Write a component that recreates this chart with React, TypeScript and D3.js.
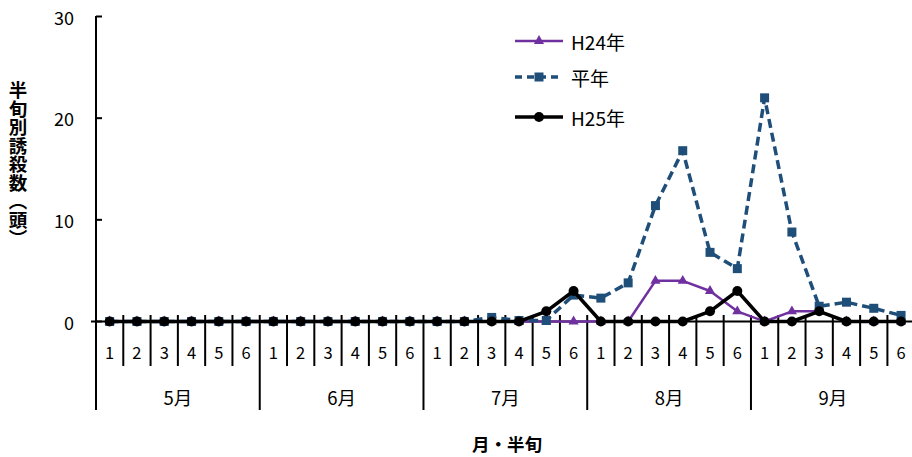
import React from "react";
import * as d3 from "d3";

const months = ["5月", "6月", "7月", "8月", "9月"];
const halfTen = ["1", "2", "3", "4", "5", "6"];
const yTicks = [0, 10, 20, 30];

const h24 = [
  0, 0, 0, 0, 0, 0,
  0, 0, 0, 0, 0, 0,
  0, 0, 0, 0, 0, 0,
  0, 0, 4, 4, 3, 1,
  0, 1, 1, 0, 0, 0,
];
const heinen = [
  0, 0, 0, 0, 0, 0,
  0, 0, 0, 0, 0, 0,
  0, 0, 0.4, 0.1, 0.1, 2.6,
  2.3, 3.8, 11.4, 16.8, 6.8, 5.2,
  22.0, 8.8, 1.5, 1.9, 1.3, 0.6,
];
const h25 = [
  0, 0, 0, 0, 0, 0,
  0, 0, 0, 0, 0, 0,
  0, 0, 0, 0, 1, 3,
  0, 0, 0, 0, 1, 3,
  0, 0, 1, 0, 0, 0,
];

const FONT = "'Noto Sans CJK JP', 'Noto Sans', sans-serif";

export default function App() {
  const W = 912, H = 457;
  const left = 96, bandW = 27.29;
  const n = months.length * halfTen.length;
  const idx = d3.range(n);
  const x = d3.scaleBand<number>().domain(idx).range([left, left + n * bandW]).padding(0);
  const cx = (i: number) => (x(i) as number) + x.bandwidth() / 2;
  const y = d3.scaleLinear().domain([0, 30]).range([321.5, 16.5]);
  const line = (arr: number[]) =>
    d3.line<number>().x((_, i) => cx(i)).y((d) => y(d))(arr) as string;
  const y0 = y(0);
  const tri = d3.symbol().type(d3.symbolTriangle).size(45)() as string;

  return (
    <svg width={W} height={H} style={{ position: "absolute", left: 0, top: 0, background: "#fff" }} fontFamily={FONT}>
      {/* y axis */}
      <line x1={left} x2={left} y1={16} y2={410} stroke="#000" strokeWidth={2} />
      {yTicks.map((t) => (
        <g key={t}>
          <line x1={left} x2={left + 6} y1={y(t)} y2={y(t)} stroke="#000" strokeWidth={2} />
          <text x={74} y={y(t)} textAnchor="end" dominantBaseline="central" fontSize={18} fill="#000">
            {t}
          </text>
        </g>
      ))}
      {/* y title */}
      <text
        x={18}
        y={164}
        textAnchor="middle"
        fontSize={18.5}
        fontWeight="bold"
        style={{ writingMode: "vertical-rl" as any }}
        fill="#000"
      >
        半旬別誘殺数（頭）
      </text>
      {/* x axis */}
      <line x1={91} x2={W} y1={y0} y2={y0} stroke="#000" strokeWidth={2} />
      {idx.map((i) => {
        const xb = x(i) as number;
        const isMonth = i % 6 === 0;
        return i === 0 ? null : (
          <line key={"t" + i} x1={xb} x2={xb} y1={315} y2={isMonth ? 410 : 366} stroke="#000" strokeWidth={2} />
        );
      })}
      {idx.map((i) => (
        <text key={"c" + i} x={cx(i)} y={352} textAnchor="middle" dominantBaseline="central" fontSize={16.5} fill="#000">
          {halfTen[i % 6]}
        </text>
      ))}
      {months.map((m, k) => (
        <text
          key={m}
          x={(x(k * 6) as number) + 3 * bandW}
          y={397}
          textAnchor="middle"
          dominantBaseline="central"
          fontSize={18.5}
          fill="#000"
        >
          {m}
        </text>
      ))}
      <text x={507} y={443} textAnchor="middle" dominantBaseline="central" fontSize={17.5} fontWeight="bold" fill="#000">
        月・半旬
      </text>

      {/* H24 */}
      <path d={line(h24)} fill="none" stroke="#7030A0" strokeWidth={2.5} strokeLinejoin="round" />
      {h24.map((v, i) => (
        <path key={"a" + i} d={tri} transform={`translate(${cx(i)},${y(v)})`} fill="#7030A0" />
      ))}
      {/* 平年 */}
      <path d={line(heinen)} fill="none" stroke="#1F4E79" strokeWidth={3.5} strokeDasharray="9,5" strokeLinejoin="round" />
      {heinen.map((v, i) => (
        <rect key={"b" + i} x={cx(i) - 4.5} y={y(v) - 4.5} width={9} height={9} fill="#1F4E79" />
      ))}
      {/* H25 */}
      <path d={line(h25)} fill="none" stroke="#000" strokeWidth={3.5} strokeLinejoin="round" />
      {h25.map((v, i) => (
        <circle key={"c" + i} cx={cx(i)} cy={y(v)} r={5} fill="#000" />
      ))}

      {/* legend */}
      <g>
        <line x1={515} x2={563} y1={41} y2={41} stroke="#7030A0" strokeWidth={2.5} />
        <path d={tri} transform="translate(539,41)" fill="#7030A0" />
        <text x={571} y={41} dominantBaseline="central" fontSize={19} fill="#000">H24年</text>

        <line x1={515} x2={563} y1={77} y2={77} stroke="#1F4E79" strokeWidth={3.5} strokeDasharray="7,5" />
        <rect x={534.5} y={72.5} width={9} height={9} fill="#1F4E79" />
        <text x={571} y={77} dominantBaseline="central" fontSize={19} fill="#000">平年</text>

        <line x1={515} x2={563} y1={117} y2={117} stroke="#000" strokeWidth={3.5} />
        <circle cx={539} cy={117} r={5} fill="#000" />
        <text x={571} y={117} dominantBaseline="central" fontSize={19} fill="#000">H25年</text>
      </g>
    </svg>
  );
}
